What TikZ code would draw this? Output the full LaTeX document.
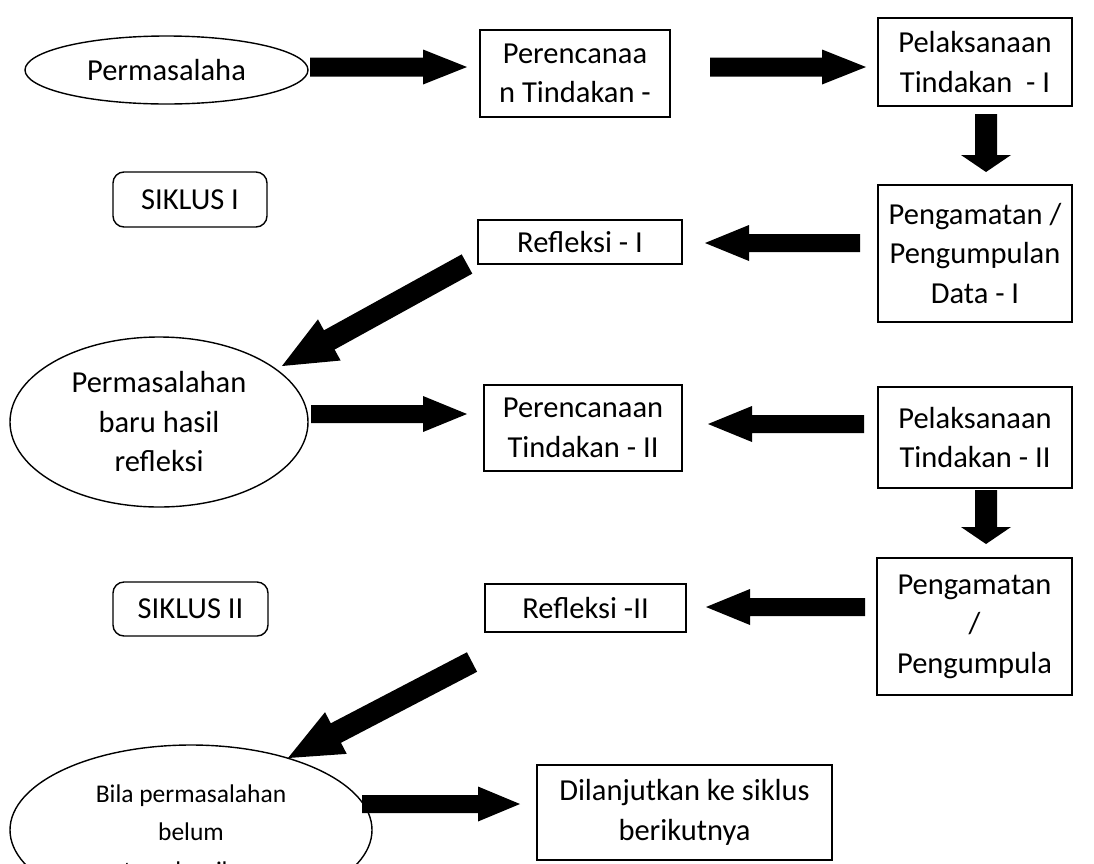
\documentclass[tikz,border=0pt]{standalone}
\usepackage{fontspec}
\setmainfont{Carlito}
\usetikzlibrary{calc,shapes.geometric}
\newcommand{\fsmain}{\fontsize{30.5}{39.5}\selectfont}
\newcommand{\fssmall}{\fontsize{25.5}{38.5}\selectfont}
% block arrow: start, end, shaft half width, head half width, head length
\newcommand{\blockarrow}[5]{%
  \coordinate (bahead) at ($(#2)!#5!(#1)$);
  \fill[black] ($(#1)!#3!90:(#2)$) -- ($(bahead)!#3!90:(#2)$) -- ($(bahead)!#4!90:(#2)$) -- (#2)
    -- ($(bahead)!#4!-90:(#2)$) -- ($(bahead)!#3!-90:(#2)$) -- ($(#1)!#3!-90:(#2)$) -- cycle;}
\tikzset{
  box/.style={draw, line width=1.6pt, rectangle, inner sep=0pt, align=center, font=\fsmain},
  oval/.style={draw, line width=1.4pt, ellipse, inner sep=0pt, align=center, font=\fsmain},
  cyc/.style={draw, line width=1.4pt, rectangle, rounded corners=11pt, inner sep=0pt, align=center, font=\fsmain},
}
\begin{document}
\begin{tikzpicture}[x=1pt,y=-1pt]
\useasboundingbox (0,0) rectangle (1094,863);
% nodes
\node[oval, minimum width=283pt, minimum height=68pt] (e1) at (166.5,70) {Permasalaha};
\node[box, minimum width=190pt, minimum height=87pt] (b1) at (575,73.5) {Perencanaa\\n Tindakan -};
\node[box, minimum width=194pt, minimum height=88pt] (b2) at (975,62) {Pelaksanaan\\Tindakan\ \ - I};
\node[box, minimum width=194pt, minimum height=137pt] (b3) at (975,253.5) {Pengamatan /\\Pengumpulan\\Data - I};
\node[cyc, minimum width=154pt, minimum height=55pt] (s1) at (190,199.5) {SIKLUS I};
\node[box, minimum width=204pt, minimum height=44pt] (r1) at (580,242) {Refleksi - I};
\node[oval, minimum width=298pt, minimum height=170pt] (e2) at (159,422) {Permasalahan\\baru hasil\\refleksi};
\node[box, minimum width=198pt, minimum height=86pt] (b4) at (583,428) {Perencanaan\\Tindakan - II};
\node[box, minimum width=194pt, minimum height=101pt] (b5) at (975,437.5) {Pelaksanaan\\Tindakan - II};
\node[box, minimum width=195pt, minimum height=137pt] (b6) at (974.5,626.5) {Pengamatan\\/\\Pengumpula};
\node[cyc, minimum width=155pt, minimum height=54pt] (s2) at (190.5,609) {SIKLUS II};
\node[box, minimum width=201pt, minimum height=48pt] (r2) at (585.5,608) {Refleksi -II};
\node[oval, minimum width=362pt, minimum height=170pt] (e3) at (191,830) {};
\node[align=center, inner sep=0pt, font=\fssmall] (e3t) at (191,832) {Bila permasalahan\\belum\\terselesaikan};
\node[box, minimum width=295pt, minimum height=95pt] (b7) at (684.5,812.5) {Dilanjutkan ke siklus\\berikutnya};
% arrow end points
\coordinate (a1s) at (310,67);  \coordinate (a1e) at (467,67);
\coordinate (a2s) at (710,67);  \coordinate (a2e) at (866,67);
\coordinate (d1s) at (986,114); \coordinate (d1e) at (986,172);
\coordinate (l1s) at (860,243); \coordinate (l1e) at (705,243);
\coordinate (g1s) at (467,264); \coordinate (g1e) at (282,366);
\coordinate (a3s) at (311,414); \coordinate (a3e) at (467,414);
\coordinate (l2s) at (864,424); \coordinate (l2e) at (708,424);
\coordinate (d2s) at (986,490); \coordinate (d2e) at (986,544);
\coordinate (l3s) at (865,607); \coordinate (l3e) at (706,607);
\coordinate (g2s) at (472,662); \coordinate (g2e) at (288,758);
\coordinate (a4s) at (362,804); \coordinate (a4e) at (520,804);
% arrows
\blockarrow{a1s}{a1e}{9.5pt}{17.5pt}{44pt}
\blockarrow{a2s}{a2e}{9.5pt}{17.5pt}{44pt}
\blockarrow{d1s}{d1e}{11pt}{25pt}{17pt}
\blockarrow{l1s}{l1e}{9pt}{18pt}{44pt}
\blockarrow{g1s}{g1e}{11pt}{23.5pt}{54pt}
\blockarrow{a3s}{a3e}{9pt}{18pt}{44pt}
\blockarrow{l2s}{l2e}{9pt}{18pt}{44pt}
\blockarrow{d2s}{d2e}{11pt}{25pt}{17pt}
\blockarrow{l3s}{l3e}{9pt}{18pt}{44pt}
\blockarrow{g2s}{g2e}{11pt}{23.5pt}{54pt}
\blockarrow{a4s}{a4e}{9pt}{17.5pt}{42pt}
\end{tikzpicture}
\end{document}
